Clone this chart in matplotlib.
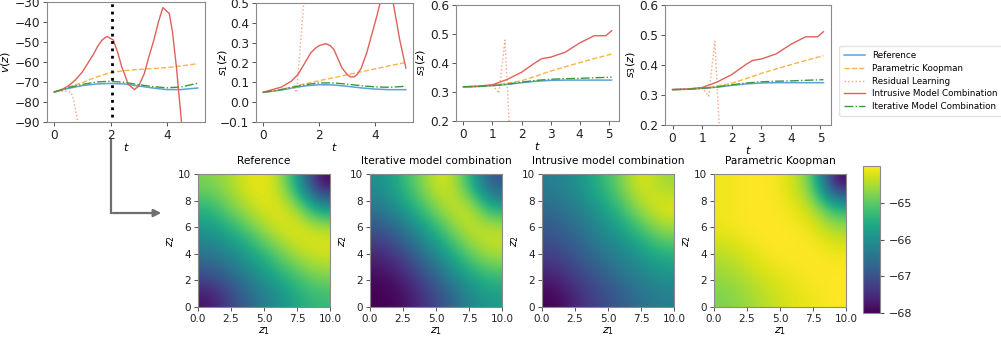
import numpy as np
import matplotlib
matplotlib.use("Agg")
import matplotlib.pyplot as plt
from matplotlib.lines import Line2D
from matplotlib.patches import FancyArrowPatch

# ---- time series data ----
t_grid = [0, 0.5, 1, 1.5, 2, 2.5, 3, 3.5, 4, 4.5, 5.1]

# v(z)
ref_v = [-75, -73.2, -71.8, -71.0, -70.7, -71.0, -72.0, -73.0, -73.8, -73.8, -73.0]
iter_v = [-75, -72.8, -71.2, -70.0, -69.6, -70.2, -71.3, -72.3, -72.9, -72.5, -70.6]
pk_v = [-75, -72.5, -70.3, -67.5, -65.3, -64.3, -63.7, -63.3, -62.8, -62.0, -60.8]
t_int_v = [0, 0.25, 0.5, 0.75, 1, 1.2, 1.4, 1.55, 1.7, 1.87, 2.1, 2.25, 2.4, 2.5,
           2.62, 2.85, 3.0, 3.2, 3.35, 3.54, 3.7, 3.86, 4.09, 4.2, 4.34, 4.52, 4.8, 5.1]
int_v = [-75, -74, -72, -69, -65, -60.5, -56, -52, -49, -47.2, -49, -55, -62.5, -66,
         -71, -73.8, -72, -65.8, -58, -49, -40, -32.8, -35.8, -45, -62.5, -90, -130, -170]
t_res_v = [0, 0.3, 0.5, 0.6, 0.67, 0.84, 1.0, 1.5]
res_v = [-75, -74.6, -74.5, -75.5, -77.5, -90, -100, -130]

# s1(z)
ref_s1 = [0.050, 0.058, 0.070, 0.082, 0.088, 0.087, 0.080, 0.072, 0.066, 0.063, 0.063]
iter_s1 = [0.050, 0.059, 0.074, 0.088, 0.097, 0.097, 0.091, 0.083, 0.077, 0.075, 0.080]
pk_s1 = [0.050, 0.060, 0.076, 0.092, 0.108, 0.123, 0.138, 0.153, 0.168, 0.183, 0.200]
t_int_s1 = [0, 0.65, 1.0, 1.24, 1.5, 1.7, 1.85, 2.0, 2.24, 2.4, 2.53, 2.7, 2.82, 3.0,
            3.12, 3.25, 3.35, 3.5, 3.7, 3.9, 4.06, 4.18, 4.4, 4.65, 4.88, 5.1]
int_s1 = [0.05, 0.076, 0.105, 0.139, 0.2, 0.248, 0.27, 0.285, 0.295, 0.285, 0.265,
          0.21, 0.172, 0.14, 0.127, 0.128, 0.138, 0.17, 0.248, 0.35, 0.433, 0.5, 0.56,
          0.5, 0.315, 0.172]
t_res_s1 = [0, 0.5, 1.0, 1.2, 1.45, 1.6]
res_s1 = [0.05, 0.058, 0.075, 0.05, 0.5, 1.0]

# s3(z)
ref_s3 = [0.318, 0.319, 0.322, 0.326, 0.332, 0.337, 0.340, 0.341, 0.341, 0.341, 0.341]
iter_s3 = [0.318, 0.319, 0.322, 0.327, 0.334, 0.340, 0.344, 0.346, 0.347, 0.349, 0.351]
pk_s3 = [0.318, 0.319, 0.323, 0.330, 0.339, 0.355, 0.372, 0.387, 0.401, 0.415, 0.431]
t_int_s3 = [0, 0.5, 1, 1.5, 2, 2.5, 2.7, 3, 3.5, 4, 4.5, 4.9, 5.1]
int_s3 = [0.318, 0.320, 0.325, 0.343, 0.368, 0.403, 0.415, 0.420, 0.437, 0.469, 0.494,
          0.494, 0.511]
t_res_s3 = [0, 0.5, 1.0, 1.22, 1.43, 1.6]
res_s3 = [0.318, 0.320, 0.325, 0.296, 0.479, 0.15]

# ---- heatmap data on a coarse grid z = 0,2,...,10 (rows: z2 from 0 up) ----
z_grid = [0, 2, 4, 6, 8, 10]
hm_reference = [
    [-67.8, -67.2, -66.6, -66.1, -65.6, -65.3],
    [-67.0, -66.6, -66.1, -65.6, -65.1, -64.7],
    [-66.4, -66.1, -65.6, -65.0, -64.4, -64.2],
    [-65.9, -65.5, -64.9, -64.3, -64.1, -64.3],
    [-65.4, -64.8, -64.3, -64.1, -64.5, -65.9],
    [-64.8, -64.5, -64.1, -64.2, -65.6, -68.0],
]
hm_iterative = [
    [-68.0, -67.9, -67.4, -66.9, -66.2, -65.8],
    [-67.9, -67.6, -67.0, -66.3, -65.6, -65.2],
    [-67.5, -67.1, -66.4, -65.7, -64.9, -64.4],
    [-67.0, -66.5, -65.8, -65.0, -64.3, -64.3],
    [-66.4, -65.8, -65.1, -64.4, -64.2, -65.6],
    [-66.0, -65.4, -64.6, -64.1, -65.3, -67.0],
]
hm_intrusive = [
    [-68.0, -67.6, -67.2, -66.9, -66.5, -66.3],
    [-67.6, -67.2, -66.9, -66.5, -66.2, -65.9],
    [-67.2, -66.9, -66.5, -66.2, -65.8, -65.4],
    [-66.9, -66.6, -66.2, -65.8, -65.2, -64.6],
    [-66.6, -66.3, -65.9, -65.3, -64.5, -64.1],
    [-66.3, -66.0, -65.5, -64.9, -64.1, -64.6],
]
hm_koopman = [
    [-64.8, -64.6, -64.4, -64.2, -64.1, -64.0],
    [-64.6, -64.4, -64.2, -64.1, -64.0, -64.0],
    [-64.4, -64.2, -64.0, -64.0, -64.0, -64.1],
    [-64.1, -64.0, -64.0, -64.0, -64.1, -64.5],
    [-64.1, -64.0, -64.0, -64.1, -64.4, -65.4],
    [-64.1, -64.0, -64.0, -64.2, -64.9, -68.0],
]
hm_titles = ["Reference", "Iterative model combination",
             "Intrusive model combination", "Parametric Koopman"]

W, H = 1001, 341

c_ref = "#5ba3d9"
c_pk = "#f9b44c"
c_res = "#f4a582"
c_int = "#e0605a"
c_iter = "#3a9a3a"
frame = "#8a8a8a"


def px_axes(fig, x0, x1, y0, y1):
    # pixel box (top-left origin) -> figure axes
    return fig.add_axes([x0 / W, (H - y1) / H, (x1 - x0) / W, (y1 - y0) / H])


def style(ax, fs):
    for s in ax.spines.values():
        s.set_color(frame)
        s.set_linewidth(0.8)
    ax.tick_params(labelsize=fs, color="#555555", length=3, width=0.7,
                   labelcolor="#222222", pad=2)


def series_panel(ax, ref, it, pk, t_int, inter, t_res, res, ylabel, ylim, yticks,
                 xticks, ylab_x):
    ax.plot(t_grid, ref, color=c_ref, lw=1.1, label="Reference")
    ax.plot(t_grid, pk, color=c_pk, lw=1.0, ls="--", label="Parametric Koopman")
    ax.plot(t_res, res, color=c_res, lw=1.0, ls=":", label="Residual Learning")
    ax.plot(t_int, inter, color=c_int, lw=1.0, label="Intrusive Model Combination")
    ax.plot(t_grid, it, color=c_iter, lw=1.0, ls="-.",
            label="Iterative Model Combination")
    ax.set_xlim(-0.255, 5.355)
    ax.set_ylim(*ylim)
    ax.set_yticks(yticks)
    ax.set_xticks(xticks)
    ax.set_ylabel(ylabel, fontsize=8)
    ax.yaxis.set_label_coords(ylab_x, 0.5)
    ax.set_xlabel("$t$", fontsize=8, labelpad=-1)
    style(ax, 8.7)


fig = plt.figure(figsize=(W / 100, H / 100), dpi=100)

ax1 = px_axes(fig, 47, 205, 2, 122)
series_panel(ax1, ref_v, iter_v, pk_v, t_int_v, int_v, t_res_v, res_v,
             "$v(z)$", (-90, -30), [-90, -80, -70, -60, -50, -40, -30],
             [0, 2, 4], -0.22)
ax1.axvline(2.05, ymin=0.04, ymax=1, color="black", ls=":", lw=2)

ax2 = px_axes(fig, 256, 413, 3, 122)
series_panel(ax2, ref_s1, iter_s1, pk_s1, t_int_s1, int_s1, t_res_s1, res_s1,
             "$s_1(z)$", (-0.1, 0.5), [-0.1, 0.0, 0.1, 0.2, 0.3, 0.4, 0.5],
             [0, 2, 4], -0.165)

ax3 = px_axes(fig, 456, 619, 5, 121)
series_panel(ax3, ref_s3, iter_s3, pk_s3, t_int_s3, int_s3, t_res_s3, res_s3,
             "$s_3(z)$", (0.2, 0.6), [0.2, 0.3, 0.4, 0.5, 0.6],
             [0, 1, 2, 3, 4, 5], -0.17)

ax4 = px_axes(fig, 665, 831, 5, 125)
series_panel(ax4, ref_s3, iter_s3, pk_s3, t_int_s3, int_s3, t_res_s3, res_s3,
             "$s_3(z)$", (0.2, 0.6), [0.2, 0.3, 0.4, 0.5, 0.6],
             [0, 1, 2, 3, 4, 5], -0.165)

handles, labels = ax1.get_legend_handles_labels()
fig.legend(handles, labels, loc="upper left",
           bbox_to_anchor=(839 / W, (H - 46) / H), fontsize=6.3, frameon=True,
           edgecolor="#dddddd", handlelength=2.4, labelspacing=0.42,
           borderpad=0.6, handletextpad=0.8, borderaxespad=0)

# ---- heatmaps ----
maps = [hm_reference, hm_iterative, hm_intrusive, hm_koopman]
lefts = [198, 370, 542, 714]
im = None
for left, data, title in zip(lefts, maps, hm_titles):
    ax = px_axes(fig, left, left + 132, 174, 307)
    im = ax.imshow(np.array(data), origin="lower", cmap="viridis", vmin=-68, vmax=-64,
                   extent=(z_grid[0], z_grid[-1], z_grid[0], z_grid[-1]),
                   interpolation="bicubic", aspect="auto")
    ax.set_xticks([0, 2.5, 5, 7.5, 10])
    ax.set_xticklabels(["0.0", "2.5", "5.0", "7.5", "10.0"])
    ax.set_yticks([0, 2, 4, 6, 8, 10])
    ax.set_xlabel("$z_1$", fontsize=8, labelpad=1)
    ax.set_ylabel("$z_2$", fontsize=8, labelpad=1)
    ax.set_title(title, fontsize=7.6, pad=7)
    style(ax, 7.5)

cax = px_axes(fig, 863, 880, 166, 313)
cb = fig.colorbar(im, cax=cax, ticks=[-65, -66, -67, -68])
cb.outline.set_edgecolor(frame)
cb.outline.set_linewidth(0.8)
cax.tick_params(labelsize=8, length=3, color="#555555", labelcolor="#222222")

# ---- arrow from the marked time to the heatmaps ----
fig.add_artist(Line2D([111 / W, 111 / W], [(H - 140) / H, (H - 213) / H],
                      transform=fig.transFigure, color="#6e6e6e", lw=1.6))
fig.add_artist(FancyArrowPatch(
    (110 / W, (H - 213) / H), (164 / W, (H - 213) / H),
    transform=fig.transFigure, arrowstyle="-|>", mutation_scale=11,
    color="#6e6e6e", lw=1.6))

fig.savefig("out.png", dpi=100)
